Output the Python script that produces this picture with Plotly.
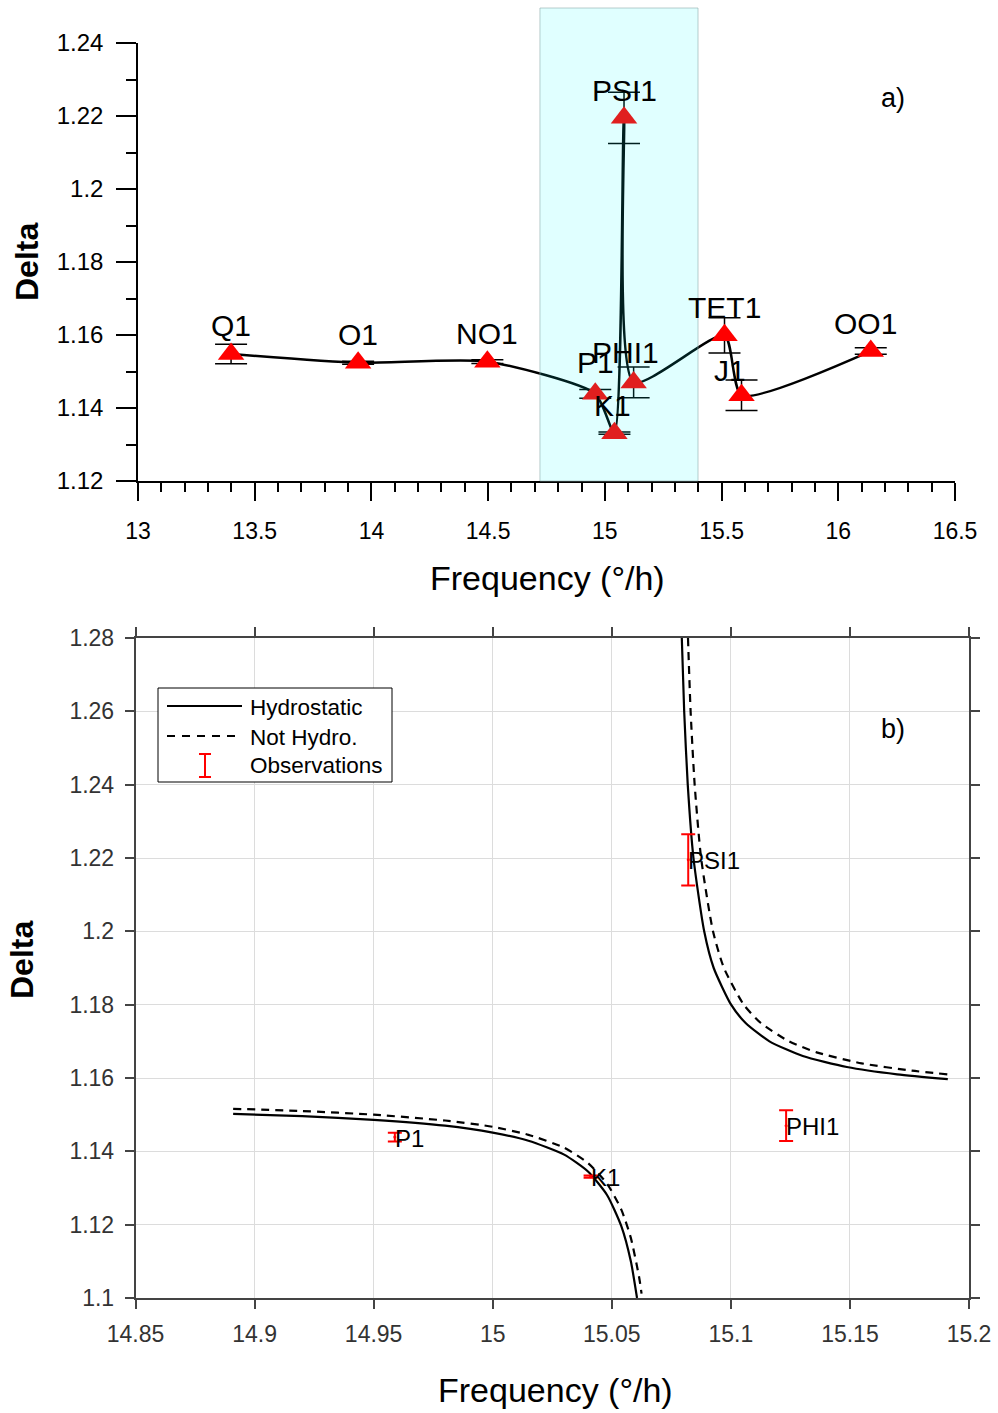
import plotly.graph_objects as go

# ---------------- data ----------------
names = ["Q1", "O1", "NO1", "P1", "K1", "PSI1", "PHI1", "TET1", "J1", "OO1"]
freq = [13.3987, 13.9430, 14.4967, 14.9589, 15.0411, 15.0821, 15.1232, 15.5126, 15.5854, 16.1391]
delta = [1.1548, 1.1524, 1.1527, 1.1439, 1.1331, 1.2195, 1.1470, 1.1599, 1.1435, 1.1556]
delta_err = [0.0027, 0.0004, 0.0005, 0.0012, 0.0003, 0.0070, 0.0042, 0.0048, 0.0042, 0.0009]

# observations shown in the zoom panel
zoom_names = ["P1", "K1", "PSI1", "PHI1"]

# model curves read off panel b)
hydro_left_f = [14.891, 14.920, 14.950, 14.980, 15.000, 15.015, 15.030, 15.040, 15.048, 15.054, 15.058, 15.0606]
hydro_left_d = [1.1502, 1.1496, 1.1486, 1.1470, 1.1451, 1.1429, 1.1391, 1.1345, 1.1281, 1.1196, 1.1100, 1.1000]
hydro_right_f = [15.0794, 15.0804, 15.0819, 15.0843, 15.0888, 15.0928, 15.1001, 15.1062, 15.1162, 15.1302,
                 15.1487, 15.1698, 15.1911]
hydro_right_d = [1.2800, 1.2600, 1.2400, 1.2200, 1.2000, 1.1900, 1.1800, 1.1750, 1.1700, 1.1660,
                 1.1630, 1.1610, 1.1597]
nh_left_f = [14.891, 14.920, 14.950, 14.980, 15.000, 15.015, 15.030, 15.040, 15.048, 15.054, 15.058,
             15.0615, 15.0625]
nh_left_d = [1.1516, 1.1510, 1.1500, 1.1484, 1.1467, 1.1445, 1.1410, 1.1368, 1.1312, 1.1241, 1.1164,
             1.1056, 1.1012]
nh_right_f = [15.0820, 15.0831, 15.0848, 15.0875, 15.0925, 15.0971, 15.1054, 15.1126, 15.1244, 15.1360,
              15.1549, 15.1760, 15.1911]
nh_right_d = [1.2800, 1.2600, 1.2400, 1.2200, 1.2000, 1.1900, 1.1800, 1.1750, 1.1700, 1.1670,
              1.1640, 1.1620, 1.1610]

band = [14.722, 15.399]

# ---------------- helpers ----------------
W, H = 998, 1413
def px(x):
    return x / W
def py(y):
    return 1 - y / H

FONT = "Liberation Sans, Arial, sans-serif"
fig = go.Figure()

# ---------------- panel a ----------------
fig.add_trace(go.Scatter(
    x=freq, y=delta, mode="lines", line=dict(color="black", width=2.5, shape="spline", smoothing=0.6),
    xaxis="x", yaxis="y", showlegend=False, hoverinfo="skip"))
fig.add_trace(go.Scatter(
    x=freq, y=delta, mode="markers",
    marker=dict(symbol="triangle-up", size=23, color="red"),
    error_y=dict(type="data", array=delta_err, visible=True, color="black", thickness=1.5, width=16),
    xaxis="x", yaxis="y", showlegend=False, text=names))

# labels in panel a (offsets in px)
lab_dx = {"K1": -2, "PHI1": -8, "J1": -12, "OO1": -5}
lab_dy = {"P1": 31, "PHI1": 30, "J1": 25, "PSI1": 27}
annotations = []
for n, f, d in zip(names, freq, delta):
    annotations.append(dict(x=f, y=d, xref="x", yref="y", text=n, showarrow=False,
                            xanchor="center", yanchor="middle",
                            xshift=lab_dx.get(n, 0), yshift=lab_dy.get(n, 28),
                            font=dict(family=FONT, size=30, color="black")))

# ---------------- panel b ----------------
curve_line = dict(color="black", width=2.2, shape="spline", smoothing=0.6)
fig.add_trace(go.Scatter(x=hydro_left_f, y=hydro_left_d, mode="lines", line=curve_line,
                         xaxis="x2", yaxis="y2", showlegend=False))
fig.add_trace(go.Scatter(x=hydro_right_f, y=hydro_right_d, mode="lines", line=curve_line,
                         xaxis="x2", yaxis="y2", showlegend=False))
fig.add_trace(go.Scatter(x=nh_left_f, y=nh_left_d, mode="lines", line=dict(curve_line, dash="8px,6px"),
                         xaxis="x2", yaxis="y2", showlegend=False))
fig.add_trace(go.Scatter(x=nh_right_f, y=nh_right_d, mode="lines", line=dict(curve_line, dash="8px,6px"),
                         xaxis="x2", yaxis="y2", showlegend=False))

zf = [freq[names.index(n)] for n in zoom_names]
zd = [delta[names.index(n)] for n in zoom_names]
ze = [delta_err[names.index(n)] for n in zoom_names]
fig.add_trace(go.Scatter(
    x=zf, y=zd, mode="markers", marker=dict(size=3, color="red"),
    error_y=dict(type="data", array=ze, visible=True, color="red", thickness=2, width=7),
    xaxis="x2", yaxis="y2", showlegend=False))
for n, f, d in zip(zoom_names, zf, zd):
    annotations.append(dict(x=f, y=d, xref="x2", yref="y2", text=n, showarrow=False,
                            xanchor="left", yanchor="middle", xshift=-2, yshift=-1,
                            font=dict(family=FONT, size=24, color="black")))

def paper_text(text, x, y, size, angle=0, xanchor="center"):
    annotations.append(dict(x=px(x), y=py(y), xref="paper", yref="paper", text=text, showarrow=False,
                            xanchor=xanchor, yanchor="middle", textangle=angle,
                            font=dict(family=FONT, size=size, color="black")))

# panel letters
paper_text("a)", 893, 98, 27)
paper_text("b)", 893, 729, 27)
# axis titles
paper_text("Frequency (°/h)", 547, 578, 34)
paper_text("Frequency (°/h)", 555, 1390, 34)
paper_text("<b>Delta</b>", 27, 262, 32, angle=-90)
paper_text("<b>Delta</b>", 22, 960, 32, angle=-90)

# manual legend for panel b
shapes = []
shapes.append(dict(type="rect", xref="paper", yref="paper", x0=px(158), x1=px(392), y0=py(782), y1=py(688),
                   line=dict(color="black", width=1), fillcolor="white", layer="above"))
shapes.append(dict(type="line", xref="paper", yref="paper", x0=px(167), x1=px(242), y0=py(706), y1=py(706),
                   line=dict(color="black", width=2.2), layer="above"))
shapes.append(dict(type="line", xref="paper", yref="paper", x0=px(167), x1=px(242), y0=py(736), y1=py(736),
                   line=dict(color="black", width=2.2, dash="8px,7px"), layer="above"))
shapes.append(dict(type="line", xref="paper", yref="paper", x0=px(205), x1=px(205), y0=py(754), y1=py(777),
                   line=dict(color="red", width=2), layer="above"))
shapes.append(dict(type="line", xref="paper", yref="paper", x0=px(199), x1=px(211), y0=py(754), y1=py(754),
                   line=dict(color="red", width=2), layer="above"))
shapes.append(dict(type="line", xref="paper", yref="paper", x0=px(199), x1=px(211), y0=py(777), y1=py(777),
                   line=dict(color="red", width=2), layer="above"))
for t, yy in [("Hydrostatic", 707), ("Not Hydro.", 737), ("Observations", 766)]:
    paper_text(t, 248, yy, 22.5, xanchor="left")

# shaded band in panel a (drawn over the data, semi-transparent)
shapes.append(dict(type="rect", xref="x", yref="paper", x0=band[0], x1=band[1],
                   y0=py(481), y1=py(8), fillcolor="rgba(0,255,255,0.12)",
                   line=dict(color="rgba(140,170,170,0.6)", width=1), layer="above"))

fig.update_layout(
    width=W, height=H, margin=dict(l=0, r=0, t=0, b=0, autoexpand=False),
    paper_bgcolor="white", plot_bgcolor="white",
    showlegend=False,
    annotations=annotations, shapes=shapes,
    xaxis=dict(domain=[px(138), px(955)], range=[13, 16.5], dtick=0.5, tick0=13, automargin=False,
               anchor="y", showline=True, linecolor="black", linewidth=1.5,
               ticks="outside", ticklen=18, tickwidth=1.5, tickcolor="black",
               minor=dict(dtick=0.1, ticks="outside", ticklen=9, tickwidth=1.5, tickcolor="black", showgrid=False),
               showgrid=False, zeroline=False, tickfont=dict(family=FONT, size=23, color="black"),
               ticklabelstandoff=11),
    yaxis=dict(domain=[py(481), py(43)], range=[1.12, 1.24], dtick=0.02, tick0=1.12, automargin=False,
               anchor="x", showline=True, linecolor="black", linewidth=1.5,
               ticks="outside", ticklen=20, tickwidth=1.5, tickcolor="black",
               minor=dict(dtick=0.01, ticks="outside", ticklen=10, tickwidth=1.5, tickcolor="black", showgrid=False),
               showgrid=False, zeroline=False, tickfont=dict(family=FONT, size=24, color="black"),
               ticklabelstandoff=8),
    xaxis2=dict(domain=[px(135.5), px(969)], range=[14.85, 15.2], dtick=0.05, tick0=14.85, automargin=False,
                anchor="y2", showline=True, mirror="ticks", linecolor="#444", linewidth=1.5,
                ticks="outside", ticklen=9, tickwidth=1.5, tickcolor="#444",
                showgrid=True, gridcolor="#dcdcdc", gridwidth=1, zeroline=False,
                tickfont=dict(family=FONT, size=23, color="#333"), ticklabelstandoff=6),
    yaxis2=dict(domain=[py(1298), py(638)], range=[1.1, 1.28], dtick=0.02, tick0=1.1, automargin=False,
                anchor="x2", showline=True, mirror="ticks", linecolor="#444", linewidth=1.5,
                ticks="outside", ticklen=9, tickwidth=1.5, tickcolor="#444",
                showgrid=True, gridcolor="#dcdcdc", gridwidth=1, zeroline=False,
                tickfont=dict(family=FONT, size=23, color="#333"), ticklabelstandoff=6),
)

fig.write_html("out.html")
